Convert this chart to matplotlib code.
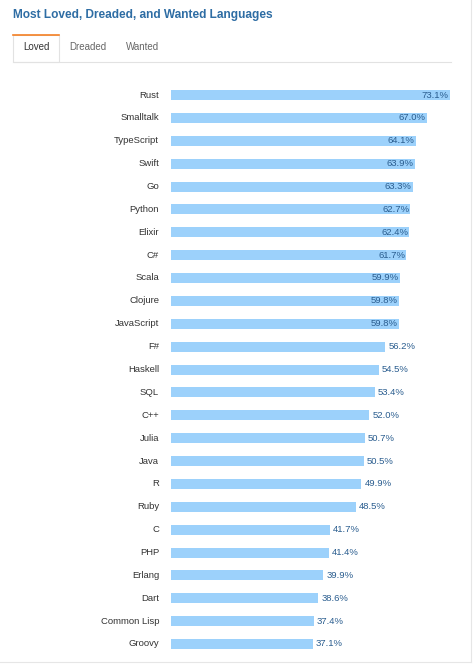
import matplotlib.pyplot as plt
from matplotlib.patches import Rectangle
from matplotlib.lines import Line2D

plt.rcParams['font.family'] = ['Liberation Sans', 'DejaVu Sans']

languages = ["Rust", "Smalltalk", "TypeScript", "Swift", "Go", "Python", "Elixir", "C#",
             "Scala", "Clojure", "JavaScript", "F#", "Haskell", "SQL", "C++", "Julia",
             "Java", "R", "Ruby", "C", "PHP", "Erlang", "Dart", "Common Lisp", "Groovy"]
loved = [73.1, 67.0, 64.1, 63.9, 63.3, 62.7, 62.4, 61.7, 59.9, 59.8, 59.8, 56.2, 54.5,
         53.4, 52.0, 50.7, 50.5, 49.9, 48.5, 41.7, 41.4, 39.9, 38.6, 37.4, 37.1]
tabs = ["Loved", "Dreaded", "Wanted"]

W, H = 474, 669
fig = plt.figure(figsize=(W / 100, H / 100), dpi=100)
fig.patch.set_facecolor("white")

def fx(px):
    return px / W

def fy(py):
    return 1 - py / H

fig.text(fx(13), fy(15), "Most Loved, Dreaded, and Wanted Languages", color="#2e6da4",
         fontsize=8.6, fontweight="bold", va="center", ha="left")

# tabs
fig.add_artist(Line2D([fx(13), fx(451)], [fy(62), fy(62)], color="#e2e2e2", lw=0.8))
fig.add_artist(Rectangle((fx(13), fy(62)), fx(46), 27 / H, facecolor="white",
                         edgecolor="#e2e2e2", lw=0.8))
fig.add_artist(Line2D([fx(13), fx(59)], [fy(35), fy(35)], color="#f48024", lw=1.2))
for name, x in zip(tabs, [36, 88, 143]):
    fig.text(fx(x), fy(47), name, fontsize=7, ha="center", va="center",
             color="#333333" if name == "Loved" else "#666666")

# outer card border
fig.add_artist(Line2D([fx(471), fx(471)], [fy(0), fy(662)], color="#e6e6e6", lw=0.8))
fig.add_artist(Line2D([fx(0), fx(471)], [fy(662), fy(662)], color="#e6e6e6", lw=0.8))

n = len(languages)
step = (644 - 95) / (n - 1)
top = 95 - step / 2
bottom = 644 + step / 2
ax = fig.add_axes([fx(171), fy(bottom), fx(450) - fx(171), (bottom - top) / H])
ax.barh(range(n), loved, height=10 / step, color="#9cd1fb")
ax.set_xlim(0, 73.1)
ax.set_ylim(n - 0.5, -0.5)
ax.axis("off")
for i, (lang, v) in enumerate(zip(languages, loved)):
    ax.text(-12 / 3.83, i, lang, ha="right", va="center", fontsize=6.8, color="#333333")
    if v >= 59:
        ax.text(v - 0.3, i, f"{v:.1f}%", ha="right", va="center", fontsize=6.8, color="#2a5d8f")
    else:
        ax.text(v + 0.8, i, f"{v:.1f}%", ha="left", va="center", fontsize=6.8, color="#2a5d8f")

fig.savefig("out.png", dpi=100)
